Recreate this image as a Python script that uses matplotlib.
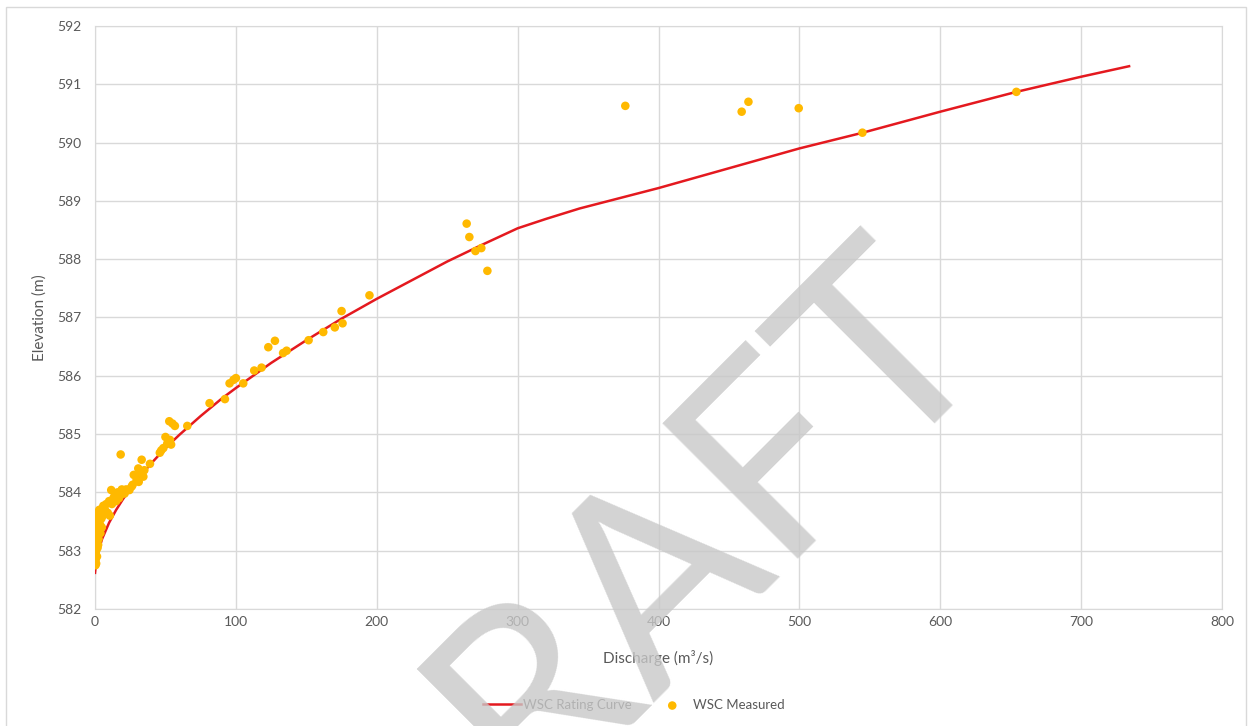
import matplotlib.pyplot as plt
from matplotlib.patches import Rectangle

# WSC rating curve (discharge m3/s, elevation m)
curve_q = [0, 1, 2, 5, 10, 15, 20, 30, 40, 50, 60, 75, 90, 100, 125, 150, 175,
           200, 225, 250, 275, 300, 320, 344, 400, 450, 500, 545, 600, 654, 700, 734]
curve_h = [582.62, 582.85, 582.96, 583.20, 583.48, 583.70, 583.89, 584.22, 584.50,
           584.76, 584.99, 585.31, 585.61, 585.79, 586.22, 586.61, 586.98, 587.32,
           587.64, 587.96, 588.25, 588.53, 588.69, 588.87, 589.22, 589.56, 589.90,
           590.17, 590.53, 590.87, 591.13, 591.31]

# WSC measured points
meas_q = [0.3, 0.5, 0.4, 0.8, 0.3, 1.0, 0.5, 1.5, 0.4, 1.0, 0.6, 1.2, 0.8, 1.8,
          2.5, 3.0, 2.0, 3.5, 4.5, 5.5, 2.5, 0.2, 1.4, 2.2, 3.8, 4.8,
          3.0, 5.0, 7.0, 9.0, 10.5, 8.0, 10.0, 12.0, 13.0, 15.0, 14.0, 16.0, 18.0,
          20.0, 22.0, 17.0, 19.0, 24.0, 26.0, 21.0, 5.9, 11.5,
          18.2, 33.1, 39.0, 30.7, 32.0, 34.3, 29.5, 26.7, 24.4, 27.5, 31.0, 35.0,
          46.0, 48.5, 51.3, 53.2, 50.0, 54.0, 47.0,
          52.7, 55.0, 56.7, 65.5, 81.3, 92.2, 95.5, 98.3, 100.0, 105.2, 113.0,
          118.2, 123.0, 127.7, 133.5, 136.0, 151.6, 162.0, 170.2, 175.0, 175.7,
          194.8, 263.8, 265.7, 270.0, 274.2, 278.5,
          376.4, 459.0, 463.8, 499.5, 544.7, 654.0]
meas_h = [582.75, 582.85, 582.95, 583.00, 583.10, 583.15, 583.25, 583.30, 583.40,
          583.45, 583.55, 583.60, 582.78, 583.05, 583.20, 583.35, 583.50, 583.45,
          583.55, 583.60, 583.65, 583.30, 582.90, 583.10, 583.30, 583.40,
          583.70, 583.72, 583.70, 583.65, 583.60, 583.80, 583.85, 583.80, 583.90,
          583.85, 583.95, 584.00, 583.95, 584.00, 584.05, 583.90, 584.05, 584.05,
          584.10, 583.98, 583.77, 584.04,
          584.65, 584.56, 584.49, 584.41, 584.33, 584.27, 584.21, 584.13, 584.04,
          584.30, 584.18, 584.38,
          584.68, 584.76, 584.84, 584.90, 584.95, 584.82, 584.72,
          585.22, 585.18, 585.14, 585.14, 585.53, 585.60, 585.87, 585.93, 585.96,
          585.87, 586.09, 586.14, 586.49, 586.60, 586.39, 586.43, 586.61, 586.75,
          586.83, 587.11, 586.90, 587.38, 588.61, 588.38, 588.14, 588.19, 587.80,
          590.63, 590.53, 590.70, 590.59, 590.17, 590.87]

plt.rcParams['font.family'] = ['Lato', 'DejaVu Sans']

fig = plt.figure(figsize=(12.52, 7.26), dpi=100)
ax = fig.add_axes([0.0759, 0.1612, 0.9002, 0.803])

ax.plot(curve_q, curve_h, color='#E4191F', linewidth=1.8, label='WSC Rating Curve', zorder=3)
ax.scatter(meas_q, meas_h, s=38, color='#FFB900', edgecolors='none', label='WSC Measured', zorder=4)

ax.set_xlim(0, 800)
ax.set_ylim(582, 592)
ax.set_xticks(range(0, 801, 100))
ax.set_yticks(range(582, 593))
ax.grid(True, color='#D9D9D9', linewidth=1.0)
ax.set_axisbelow(True)
for s in ax.spines.values():
    s.set_color('#D9D9D9')
ax.tick_params(axis='y', length=0, labelsize=10, colors='#595959', pad=10)
ax.tick_params(axis='x', length=0, labelsize=10, colors='#595959', pad=5)

ax.set_xlabel('Discharge (m³/s)', fontsize=11, color='#595959', labelpad=16)
ax.set_ylabel('Elevation (m)', fontsize=11, color='#595959', labelpad=7)

fig.legend(loc='center', bbox_to_anchor=(634 / 1252, 1 - 705 / 726), ncol=2,
           frameon=False, fontsize=9.5, labelcolor='#595959', handlelength=2.9,
           handletextpad=0.15, columnspacing=1.6)

# chart area border
fig.patches.append(Rectangle((0.005, -0.01), 0.99, 1.0, transform=fig.transFigure,
                             fill=False, edgecolor='#D9D9D9', linewidth=1.0))

# DRAFT watermark
fig.text(0.508, 0.186, 'DRAFT', fontsize=192, color='#C8C8C8', alpha=0.8,
         rotation=45, ha='center', va='center', zorder=10)

fig.savefig('out.png', dpi=100)
